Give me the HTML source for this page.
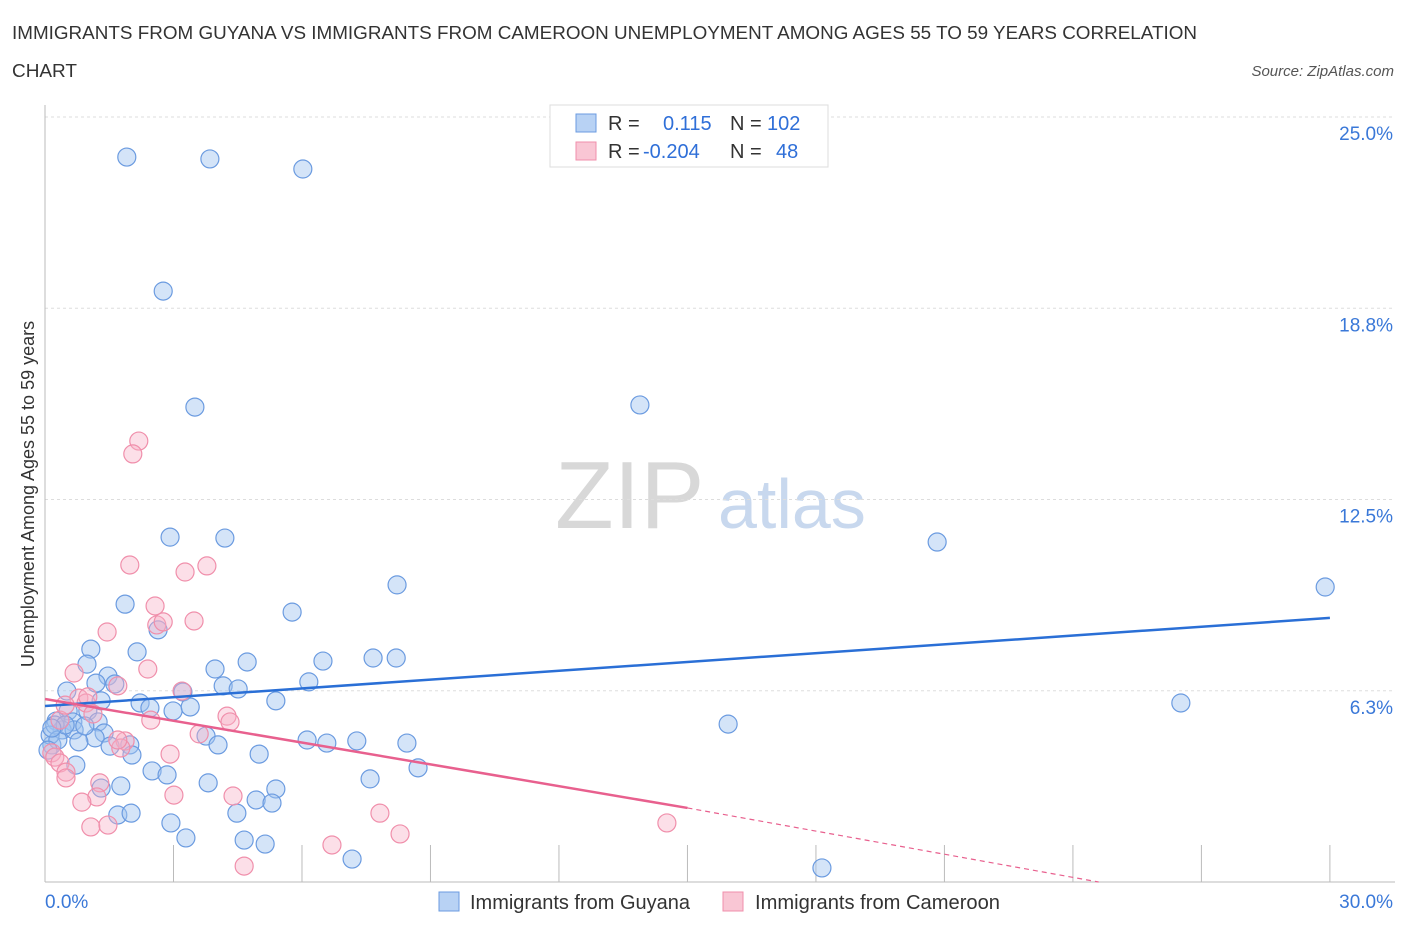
<!DOCTYPE html>
<html><head><meta charset="utf-8"><style>
body{margin:0;background:#fff;font-family:"Liberation Sans",sans-serif;}
svg text{font-family:"Liberation Sans",sans-serif;}
</style></head><body>
<svg id="chart" width="1406" height="930" xmlns="http://www.w3.org/2000/svg">
<text x="12" y="39" font-size="18" fill="#333" textLength="1185" lengthAdjust="spacingAndGlyphs">IMMIGRANTS FROM GUYANA VS IMMIGRANTS FROM CAMEROON UNEMPLOYMENT AMONG AGES 55 TO 59 YEARS CORRELATION</text>
<text x="12" y="77" font-size="18" fill="#333" textLength="65" lengthAdjust="spacingAndGlyphs">CHART</text>
<text x="1394" y="76" font-size="15" fill="#555" font-style="italic" text-anchor="end">Source: ZipAtlas.com</text>
<g>
<text x="555" y="528" font-size="96" fill="#d8d8d8" font-family="Liberation Serif, serif">ZIP</text>
<text x="718" y="528" font-size="70" fill="#c8d8ee">atlas</text>
</g>
<g id="grid"></g>
<g id="axes"></g>
<g id="marks"></g>
<text transform="translate(34,494) rotate(-90)" font-size="18" fill="#333" text-anchor="middle">Unemployment Among Ages 55 to 59 years</text>
<g>
<rect x="550" y="105" width="278" height="62" fill="#fff" stroke="#ddd"/>
<rect x="576" y="114" width="20" height="18" fill="#b8d2f4" stroke="#6b9be0"/>
<rect x="576" y="142" width="20" height="18" fill="#f9c6d4" stroke="#f08fab"/>
<text x="608" y="130" font-size="20" fill="#333">R = <tspan x="663" fill="#2f6fd8">0.115</tspan><tspan x="730" fill="#333">N = </tspan><tspan x="767" fill="#2f6fd8">102</tspan></text>
<text x="608" y="158" font-size="20" fill="#333">R = <tspan x="643" fill="#2f6fd8">-0.204</tspan><tspan x="730" fill="#333">N = </tspan><tspan x="776" fill="#2f6fd8">48</tspan></text>
</g>
<g>
<rect x="439" y="892" width="20" height="19" fill="#b8d2f4" stroke="#6b9be0"/>
<text x="470" y="909" font-size="20" fill="#333" textLength="220" lengthAdjust="spacingAndGlyphs">Immigrants from Guyana</text>
<rect x="723" y="892" width="20" height="19" fill="#f9c6d4" stroke="#f08fab"/>
<text x="755" y="909" font-size="20" fill="#333" textLength="245" lengthAdjust="spacingAndGlyphs">Immigrants from Cameroon</text>
</g>
</svg>
<script>
const guyanaX=[1.91,3.85,6.02,2.76,3.50,13.89,2.92,4.20,20.83,29.89,8.22,1.87,5.77,2.64,1.07,2.15,0.98,7.66,8.20,6.49,4.72,3.97,1.47,1.19,1.63,6.16,0.51,4.16,4.51,3.22,5.39,26.52,1.31,2.22,2.45,2.99,3.39,1.00,0.54,0.26,0.65,1.24,15.95,0.40,0.68,1.38,3.76,1.17,0.79,6.12,6.58,7.28,8.45,0.16,4.04,1.98,1.52,2.03,5.00,8.71,2.50,2.85,0.72,7.59,3.81,1.77,5.39,1.31,4.93,5.30,1.70,2.01,4.48,2.94,3.29,4.65,5.14,7.17,18.14,0.12,0.23,0.30,0.47,0.93,0.07,0.16];
const guyanaY=[23.69,23.63,23.30,19.31,15.52,15.59,11.27,11.24,11.11,9.64,9.71,9.08,8.82,8.24,7.61,7.52,7.12,7.32,7.32,7.22,7.19,6.96,6.73,6.50,6.47,6.54,6.24,6.41,6.31,6.21,5.92,5.85,5.92,5.85,5.69,5.59,5.72,5.59,5.59,5.26,5.23,5.23,5.16,4.97,4.97,4.87,4.77,4.71,4.58,4.64,4.54,4.61,4.54,4.48,4.48,4.48,4.44,4.15,4.18,3.73,3.63,3.50,3.82,3.37,3.24,3.14,3.04,3.07,2.68,2.58,2.19,2.25,2.25,1.93,1.44,1.37,1.24,0.75,0.46,4.80,5.13,4.64,5.13,5.10,4.31,5.03];
const cameroonX=[2.19,2.05,1.98,3.27,3.78,2.57,2.61,2.76,3.48,1.45,2.40,0.68,3.20,0.79,0.96,1.12,4.25,4.32,2.47,0.35,3.60,2.92,1.87,1.77,0.16,0.23,0.35,0.49,1.28,0.49,3.01,4.39,1.21,0.86,1.07,1.47,7.82,8.29,6.70,14.52,4.65,1.70,1.70,1.00,0.47];
const cameroonY=[14.41,13.99,10.36,10.13,10.33,9.02,8.40,8.50,8.53,8.17,6.96,6.83,6.24,6.01,5.85,5.49,5.42,5.23,5.29,5.29,4.84,4.18,4.61,4.38,4.22,4.08,3.89,3.59,3.24,3.40,2.84,2.81,2.78,2.61,1.80,1.86,2.25,1.57,1.21,1.93,0.52,6.41,4.64,6.05,5.78];
const yTicks=[6.25,12.5,18.75,25];
const yTickLabels=["6.3%","12.5%","18.8%","25.0%"];
const xTicks=[0,3,6,9,12,15,18,21,24,27,30];
const guyanaTrend=[[0,5.75],[30,8.63]];
const cameroonTrend=[[0,5.98],[15,2.42],[24.6,0]];

const NS="http://www.w3.org/2000/svg";
const X0=45,XPER=42.83,Y0=882,YPER=30.6;
const sx=v=>X0+v*XPER, sy=v=>Y0-v*YPER;
function mk(tag,attrs,parent){const e=document.createElementNS(NS,tag);for(const k in attrs)e.setAttribute(k,attrs[k]);parent.appendChild(e);return e;}
const grid=document.getElementById('grid'),axes=document.getElementById('axes'),marks=document.getElementById('marks');
yTicks.forEach((t,i)=>{
 const l=mk('line',{x1:45,x2:1395,y1:sy(t),y2:sy(t),stroke:'#ddd','stroke-dasharray':'3,3'},grid);
 
 
 const tx=mk('text',{x:1393,y:sy(t)+23,'font-size':19,fill:'#3a78d8','text-anchor':'end'},grid);
 tx.textContent=yTickLabels[i];
 
 
});
const ya=mk('line',{x1:45,x2:45,y1:105,y2:882,stroke:'#bbb'},axes);


const xa=mk('line',{x1:45,x2:1395,y1:882,y2:882,stroke:'#bbb'},axes);


xTicks.forEach(t=>{
 const l=mk('line',{x1:sx(t),x2:sx(t),y1:845,y2:882,stroke:'#bbb'},axes);
 
 
});
[[0,"0.0%",'start',45],[30,"30.0%",'end',1393]].forEach(a=>{
 const t=mk('text',{x:a[3],y:908,'font-size':19,fill:'#3a78d8','text-anchor':a[2]},axes);
 t.textContent=a[1];
 
 
});
function dots(xs,ys,fill,stroke,name){
 xs.forEach((x,i)=>{
  const c=mk('circle',{cx:sx(x),cy:sy(ys[i]),r:9,fill:fill,stroke:stroke,'stroke-width':1.2},marks);
  
  
 });
}
dots(guyanaX,guyanaY,'rgba(160,196,240,0.45)','#6b9be0','guyana-point');
dots(cameroonX,cameroonY,'rgba(248,176,198,0.4)','#f08fab','cameroon-point');
const bl=mk('line',{x1:sx(guyanaTrend[0][0]),y1:sy(guyanaTrend[0][1]),x2:sx(guyanaTrend[1][0]),y2:sy(guyanaTrend[1][1]),stroke:'#2a6fd6','stroke-width':2.5},marks);


const pl=mk('line',{x1:sx(cameroonTrend[0][0]),y1:sy(cameroonTrend[0][1]),x2:sx(cameroonTrend[1][0]),y2:sy(cameroonTrend[1][1]),stroke:'#e8608e','stroke-width':2.5},marks);


const pd=mk('line',{x1:sx(cameroonTrend[1][0]),y1:sy(cameroonTrend[1][1]),x2:sx(cameroonTrend[2][0]),y2:sy(cameroonTrend[2][1]),stroke:'#e8608e','stroke-width':1.2,'stroke-dasharray':'5,4'},marks);


</script>
</body></html>
